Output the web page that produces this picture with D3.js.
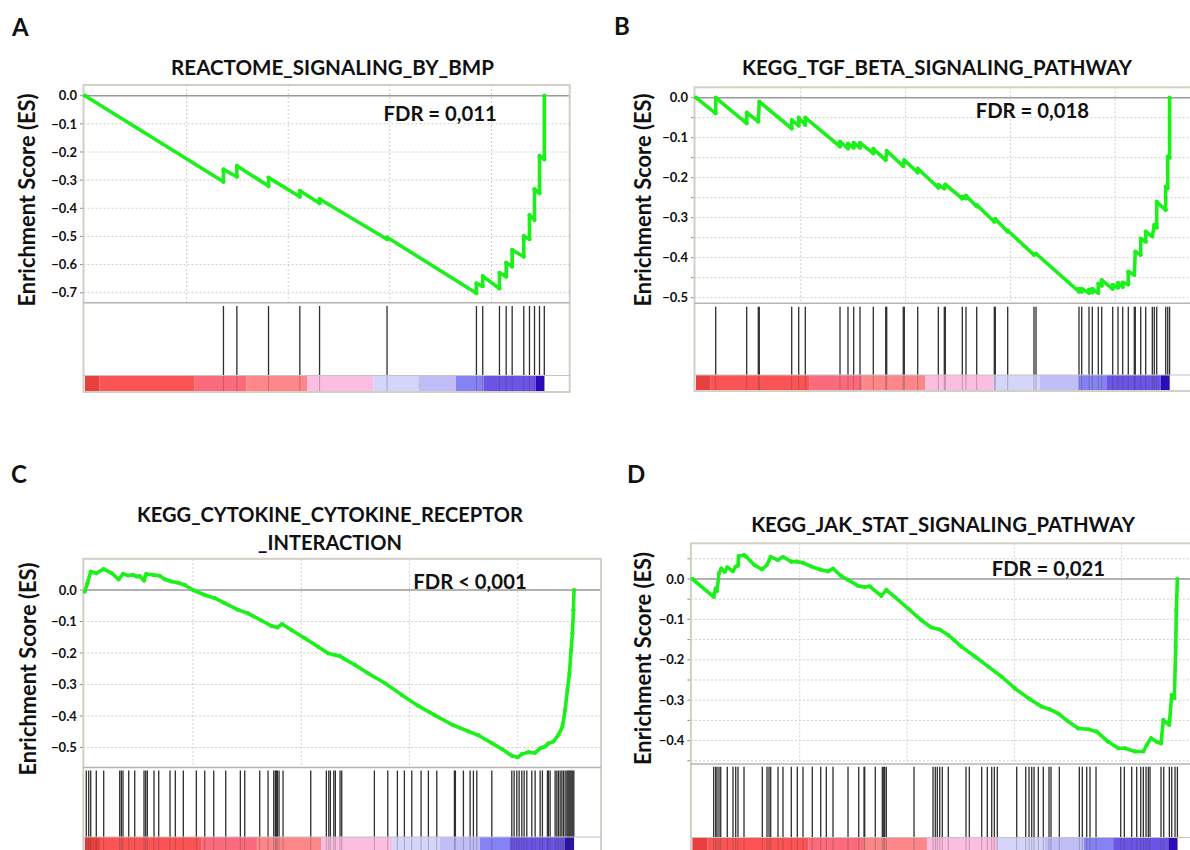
<!DOCTYPE html>
<html>
<head>
<meta charset="utf-8">
<script src="https://cdn.jsdelivr.net/npm/d3@7"></script>
<style>
  body { margin: 0; background: #fff; }
  svg { display: block; }
  text { font-family: Lato, "Open Sans", "DejaVu Sans", sans-serif; font-weight: bold; fill: #111; }
</style>
</head>
<body>
<svg id="chart" width="1190" height="850"></svg>
<script>
// ---------------- DATA ----------------
const N = 22600;                       // ranked list length
const frameRankMax = 23850;            // plot frame extends a bit past the list
const xGridRanks = [5000, 10000, 15000, 20000];

// ranked-list heat bar (rank breakpoints and colours)
const colorBreaks = [0, 700, 5400, 7950, 10930, 14200, 16400, 18250, 19610, 22180, 22600];
const colorBarColors = ["#e8403f", "#fc5455", "#fb6a7d", "#fc8688", "#fbbde0",
                        "#d5d5fa", "#c1bdf7", "#8582f3", "#6b54e6", "#2b07c5"];

const panelLetters = ["A", "B", "C", "D"];
const titleA = ["REACTOME_SIGNALING_BY_BMP"];
const titleB = ["KEGG_TGF_BETA_SIGNALING_PATHWAY"];
const titleC = ["KEGG_CYTOKINE_CYTOKINE_RECEPTOR", "_INTERACTION"];
const titleD = ["KEGG_JAK_STAT_SIGNALING_PATHWAY"];
const fdrLabels = ["FDR = 0,011", "FDR = 0,018", "FDR < 0,001", "FDR = 0,021"];
const yAxisTitle = "Enrichment Score (ES)";

const yTicksA = [0, -0.1, -0.2, -0.3, -0.4, -0.5, -0.6, -0.7];
const yGridA  = [-0.1, -0.2, -0.3, -0.4, -0.5, -0.6, -0.7];
const yTicksB = [0, -0.1, -0.2, -0.3, -0.4, -0.5];
const yGridB  = [-0.05, -0.1, -0.15, -0.2, -0.25, -0.3, -0.35, -0.4, -0.45, -0.5];
const yTicksC = [0, -0.1, -0.2, -0.3, -0.4, -0.5];
const yGridC  = [-0.1, -0.2, -0.3, -0.4, -0.5];
const yTicksD = [0, -0.1, -0.2, -0.3, -0.4];
const yGridD  = [0.05, -0.05, -0.1, -0.15, -0.2, -0.25, -0.3, -0.35, -0.4, -0.45];

// gene-set hit positions (rank in ordered list)
const hitsA = [6813, 7473, 9030, 10571, 11542, 14862, 19261, 19571, 20394, 20724,
               21019, 21591, 21871, 22118, 22364, 22600];
const hitsB = [940, 2419, 2973, 3021, 4567, 4901, 5216, 6872, 7253, 7525, 7826, 8461,
               9053, 9100, 9892, 9940, 10580, 11563, 11849, 11897, 12708, 12884, 13395,
               14235, 14283, 14874, 16129, 16225, 18277, 18406, 18754, 18912, 19198,
               19360, 19885, 20138, 20362, 20629, 20916, 20963, 21221, 21460, 21775,
               21870, 21985, 22414, 22510, 22600];
const hitsC = [69, 180, 273, 531, 873, 1613, 1687, 1765, 2029, 2306, 2736, 2814, 2888,
               3198, 3415, 3937, 4182, 4552, 5152, 5541, 5957, 6511, 7186, 7389, 8082,
               8466, 8729, 8803, 8849, 8896, 8974, 9159, 10439, 11160, 11271, 11345,
               11502, 11576, 11793, 11871, 13378, 13997, 14441, 14764, 15106, 15536,
               15873, 16261, 17075, 17121, 17491, 17800, 17953, 18110, 18803, 19727,
               19833, 19958, 20065, 20190, 20296, 20420, 20651, 20804, 21035, 21141,
               21372, 21418, 21497, 21728, 21807, 21881, 21960, 22038, 22112, 22191,
               22270, 22316, 22362, 22408, 22455, 22501, 22547, 22593];
const hitsD = [993, 1086, 1146, 1240, 1319, 1626, 1892, 2018, 2125, 2405, 3257, 3476,
               3570, 3649, 3989, 4222, 4609, 4888, 5154, 5587, 5979, 6240, 6552, 7251,
               7750, 7997, 8029, 8523, 8849, 8915, 8961, 9036, 10327, 11212, 11319,
               11412, 11524, 11645, 11925, 12750, 12904, 13481, 13742, 13947, 14069,
               14208, 15112, 15532, 15686, 15811, 15919, 16119, 16352, 16618, 16711,
               17098, 18030, 18169, 18374, 18528, 18808, 19959, 20127, 20471, 20704,
               20891, 21012, 21138, 21245, 21324, 21837, 21963, 22224, 22335, 22489, 22600];

// running enrichment score [rank, ES]
const esA = [[0, 0], [6813, -0.306], [6813, -0.262], [7473, -0.288], [7473, -0.249],
  [9030, -0.321], [9030, -0.291], [10571, -0.359], [10571, -0.338], [11542, -0.382],
  [11542, -0.367], [14862, -0.510], [14862, -0.503], [19261, -0.702], [19261, -0.667],
  [19571, -0.677], [19571, -0.641], [20394, -0.685], [20394, -0.629], [20724, -0.643],
  [20724, -0.593], [21019, -0.607], [21019, -0.548], [21591, -0.572], [21591, -0.499],
  [21871, -0.510], [21871, -0.424], [22118, -0.442], [22118, -0.332], [22364, -0.347],
  [22364, -0.214], [22600, -0.226], [22600, 0]];
const esB = [[0, 0], [940, -0.039], [940, 0.0], [2419, -0.064], [2419, -0.037],
  [2973, -0.060], [3021, -0.010], [4567, -0.077], [4567, -0.056], [4901, -0.070],
  [4901, -0.050], [5216, -0.068], [5216, -0.050], [6872, -0.122], [6872, -0.110],
  [7253, -0.127], [7253, -0.115], [7525, -0.125], [7525, -0.113], [7826, -0.125],
  [7826, -0.113], [8461, -0.139], [8461, -0.128], [9053, -0.156], [9100, -0.133],
  [9892, -0.171], [9940, -0.156], [10580, -0.187], [10580, -0.177], [11563, -0.225],
  [11563, -0.218], [11849, -0.227], [11897, -0.217], [12708, -0.252], [12708, -0.247],
  [12884, -0.252], [12884, -0.245], [13395, -0.272], [13395, -0.268], [14235, -0.310],
  [14283, -0.303], [14874, -0.335], [14874, -0.332], [16129, -0.393], [16225, -0.390],
  [18277, -0.485], [18277, -0.478], [18406, -0.485], [18406, -0.478], [18754, -0.488],
  [18754, -0.480], [18912, -0.487], [18912, -0.478], [19198, -0.488], [19198, -0.465],
  [19360, -0.470], [19360, -0.456], [19885, -0.478], [19885, -0.468], [20138, -0.475],
  [20138, -0.463], [20362, -0.473], [20362, -0.462], [20629, -0.467], [20629, -0.435],
  [20916, -0.443], [20963, -0.385], [21221, -0.393], [21221, -0.352], [21460, -0.360],
  [21460, -0.335], [21775, -0.347], [21870, -0.318], [21985, -0.325], [21985, -0.260],
  [22414, -0.281], [22414, -0.222], [22510, -0.226], [22510, -0.147], [22600, -0.150],
  [22600, 0.0]];
const esC = [[0, -0.005], [116, 0.021], [273, 0.058], [531, 0.053], [873, 0.066],
  [1225, 0.054], [1567, 0.034], [1765, 0.051], [1996, 0.046], [2227, 0.048],
  [2380, 0.043], [2537, 0.044], [2736, 0.030], [2842, 0.051], [3152, 0.048],
  [3461, 0.045], [3692, 0.034], [3997, 0.027], [4307, 0.023], [4616, 0.016],
  [5000, 0.0], [5541, -0.016], [6003, -0.026], [6465, -0.042], [7079, -0.063],
  [7541, -0.074], [8156, -0.097], [8618, -0.114], [8896, -0.119], [9113, -0.108],
  [9542, -0.127], [10162, -0.153], [10776, -0.180], [11238, -0.201], [11548, -0.206],
  [11793, -0.210], [11945, -0.217], [12486, -0.238], [13101, -0.265], [13872, -0.296],
  [14644, -0.333], [15411, -0.368], [16183, -0.398], [16955, -0.427], [17722, -0.449],
  [18184, -0.461], [18803, -0.486], [19265, -0.505], [19727, -0.526], [20004, -0.531],
  [20190, -0.521], [20495, -0.515], [20804, -0.517], [21035, -0.503], [21266, -0.497],
  [21418, -0.487], [21649, -0.481], [21881, -0.460], [22065, -0.434], [22190, -0.381],
  [22296, -0.317], [22389, -0.265], [22467, -0.191], [22527, -0.138], [22574, -0.064],
  [22600, 0.0]];
const esD = [[0, 0], [993, -0.044], [1086, -0.023], [1146, -0.030], [1240, 0.014],
  [1347, 0.026], [1505, 0.018], [1626, 0.029], [1892, 0.019], [2018, 0.031],
  [2125, 0.033], [2158, 0.057], [2405, 0.059], [2512, 0.055], [2903, 0.034],
  [3243, 0.024], [3476, 0.035], [3649, 0.055], [3989, 0.047], [4222, 0.055],
  [4609, 0.043], [4888, 0.043], [5154, 0.040], [5541, 0.031], [5979, 0.023],
  [6319, 0.019], [6552, 0.026], [6939, 0.007], [7251, -0.002], [7717, -0.017],
  [8029, -0.020], [8262, -0.018], [8803, -0.042], [9036, -0.027], [9427, -0.044],
  [10047, -0.073], [10667, -0.102], [11133, -0.120], [11524, -0.125], [11925, -0.139],
  [12549, -0.168], [13169, -0.192], [13789, -0.217], [14413, -0.242], [15033, -0.271],
  [15653, -0.295], [16277, -0.316], [16664, -0.323], [17051, -0.333], [17517, -0.353],
  [17983, -0.370], [18449, -0.372], [18840, -0.378], [19381, -0.403], [19847, -0.419],
  [20159, -0.419], [20625, -0.427], [21012, -0.427], [21170, -0.411], [21371, -0.394],
  [21636, -0.403], [21837, -0.407], [21944, -0.349], [22102, -0.356], [22224, -0.361],
  [22335, -0.287], [22457, -0.295], [22522, -0.168], [22550, -0.077], [22600, 0.0]];

// ---------------- LAYOUT ----------------
const panels = [
  { letter: panelLetters[0], letterX: 12, letterY: 36, title: titleA, titleX: 332.5, titleY: [74.5], titleW: 323,
    fdr: fdrLabels[0], fdrX: 383.5, fdrY: 120.5, es: esA, hits: hitsA, ticks: yTicksA, grid: yGridA,
    x0: 85, xEnd: 544.3, yTop: 85, yEsBottom: 302.7, esTop: 0.038, esBottom: -0.7355,
    hitTop: 306, cbTop: 375.5, cbBottom: 391, axTitleX: 35, axTitleY: 200 },
  { letter: panelLetters[1], letterX: 614, letterY: 35, title: titleB, titleX: 937, titleY: [75], titleW: 390,
    fdr: fdrLabels[1], fdrX: 975.7, fdrY: 118.3, es: esB, hits: hitsB, ticks: yTicksB, grid: yGridB,
    x0: 696, xEnd: 1169.6, yTop: 87.3, yEsBottom: 303.3, esTop: 0.026, esBottom: -0.514,
    hitTop: 306.7, cbTop: 375, cbBottom: 390, axTitleX: 650.5, axTitleY: 200 },
  { letter: panelLetters[2], letterX: 11, letterY: 483, title: titleC, titleX: 330, titleY: [521.7, 550], titleW: 386,
    fdr: fdrLabels[2], fdrX: 413.3, fdrY: 589, es: esC, hits: hitsC, ticks: yTicksC, grid: yGridC,
    x0: 84.8, xEnd: 574, yTop: 558.8, yEsBottom: 767.5, esTop: 0.099, esBottom: -0.5635,
    hitTop: 770.5, cbTop: 837, cbBottom: 853, axTitleX: 36, axTitleY: 669 },
  { letter: panelLetters[3], letterX: 627, letterY: 483, title: titleD, titleX: 943, titleY: [531.7], titleW: 384,
    fdr: fdrLabels[3], fdrX: 991.7, fdrY: 575.7, es: esD, hits: hitsD, ticks: yTicksD, grid: yGridD,
    x0: 692.4, xEnd: 1177.4, yTop: 543.3, yEsBottom: 764, esTop: 0.0884, esBottom: -0.458,
    hitTop: 766.7, cbTop: 837.5, cbBottom: 853, axTitleX: 650.5, axTitleY: 658.5 }
];

const svg = d3.select("#chart");
const green = "#1bf01b";
const fmt = d3.format(".1f");

function fitWidth(sel, target) {
  const w = sel.node().getComputedTextLength();
  const fs = parseFloat(sel.attr("font-size"));
  sel.attr("font-size", (fs * target / w).toFixed(2));
  return fs * target / w;
}

panels.forEach(p => {
  const g = svg.append("g");
  const x = d3.scaleLinear().domain([0, N]).range([p.x0, p.xEnd]);
  const y = d3.scaleLinear().domain([p.esTop, p.esBottom]).range([p.yTop, p.yEsBottom]);
  const fl = p.x0 - 1.5, fr = x(frameRankMax);

  // grid
  g.selectAll("line.vg").data(xGridRanks).join("line").attr("class", "vg")
    .attr("x1", d => x(d)).attr("x2", d => x(d)).attr("y1", p.yTop).attr("y2", p.yEsBottom)
    .attr("stroke", "#cfcfcf").attr("stroke-width", 1).attr("stroke-dasharray", "2,2");
  g.selectAll("line.hg").data(p.grid).join("line").attr("class", "hg")
    .attr("x1", fl).attr("x2", fr).attr("y1", d => y(d)).attr("y2", d => y(d))
    .attr("stroke", "#cfcfcf").attr("stroke-width", 1).attr("stroke-dasharray", "2,2");
  // zero line
  g.append("line").attr("x1", fl).attr("x2", fr).attr("y1", y(0)).attr("y2", y(0))
    .attr("stroke", "#9a9a9a").attr("stroke-width", 1.6);
  // small ticks on the left
  g.selectAll("line.tk").data(p.grid.concat([0])).join("line").attr("class", "tk")
    .attr("x1", fl - 3.5).attr("x2", fl).attr("y1", d => y(d)).attr("y2", d => y(d))
    .attr("stroke", "#8a8a8a").attr("stroke-width", 1);
  // tick labels
  g.selectAll("text.tl").data(p.ticks).join("text").attr("class", "tl")
    .attr("x", fl - 6.5).attr("y", d => y(d)).attr("dy", "0.36em")
    .attr("text-anchor", "end").attr("font-size", 13).text(d => fmt(d));

  // colour bar
  g.selectAll("rect.cb").data(colorBarColors).join("rect").attr("class", "cb")
    .attr("x", (d, i) => x(colorBreaks[i])).attr("width", (d, i) => x(colorBreaks[i + 1]) - x(colorBreaks[i]))
    .attr("y", p.cbTop).attr("height", p.cbBottom - p.cbTop).attr("fill", d => d);

  // hits
  g.selectAll("line.hit").data(p.hits).join("line").attr("class", "hit")
    .attr("x1", d => x(d)).attr("x2", d => x(d)).attr("y1", p.hitTop).attr("y2", p.cbTop)
    .attr("stroke", "#2e2e2e").attr("stroke-width", 1.3);
  g.selectAll("line.hit2").data(p.hits).join("line").attr("class", "hit2")
    .attr("x1", d => x(d)).attr("x2", d => x(d)).attr("y1", p.cbTop).attr("y2", p.cbBottom)
    .attr("stroke", "#3c3c3c").attr("stroke-width", 1).attr("stroke-opacity", 0.3);

  // frame & dividers
  g.append("rect").attr("x", fl).attr("y", p.yTop).attr("width", fr - fl).attr("height", p.cbBottom + 1 - p.yTop)
    .attr("fill", "none").attr("stroke", "#d3cfc4").attr("stroke-width", 2);
  g.append("line").attr("x1", fl).attr("x2", fr).attr("y1", p.yEsBottom).attr("y2", p.yEsBottom)
    .attr("stroke", "#b4b4b4").attr("stroke-width", 1.6);
  g.append("line").attr("x1", fl).attr("x2", fr).attr("y1", p.cbTop).attr("y2", p.cbTop)
    .attr("stroke", "#c4c4c4").attr("stroke-width", 1.2);

  // running ES curve
  const line = d3.line().x(d => x(d[0])).y(d => y(d[1]));
  g.append("path").datum(p.es).attr("d", line).attr("fill", "none")
    .attr("stroke", green).attr("stroke-width", 3.6).attr("stroke-linejoin", "round").attr("stroke-linecap", "round");
  g.selectAll("circle.pt").data(p.es).join("circle").attr("class", "pt")
    .attr("cx", d => x(d[0])).attr("cy", d => y(d[1])).attr("r", 2.1).attr("fill", green);

  // texts
  g.append("text").attr("x", p.letterX).attr("y", p.letterY).attr("font-size", 24).text(p.letter);
  let fs = null;
  p.title.forEach((t, i) => {
    const tt = g.append("text").attr("x", p.titleX).attr("y", p.titleY[i]).attr("text-anchor", "middle")
      .attr("font-size", 20).text(t);
    if (i === 0) fs = fitWidth(tt, p.titleW); else tt.attr("font-size", fs.toFixed(2));
  });
  const f = g.append("text").attr("x", p.fdrX).attr("y", p.fdrY).attr("font-size", 20).text(p.fdr);
  fitWidth(f, 113.5);
  const at = g.append("text").attr("transform", `translate(${p.axTitleX},${p.axTitleY}) rotate(-90)`)
    .attr("text-anchor", "middle").attr("font-size", 19).text(yAxisTitle);
  fitWidth(at, 213);
});
</script>
</body>
</html>
